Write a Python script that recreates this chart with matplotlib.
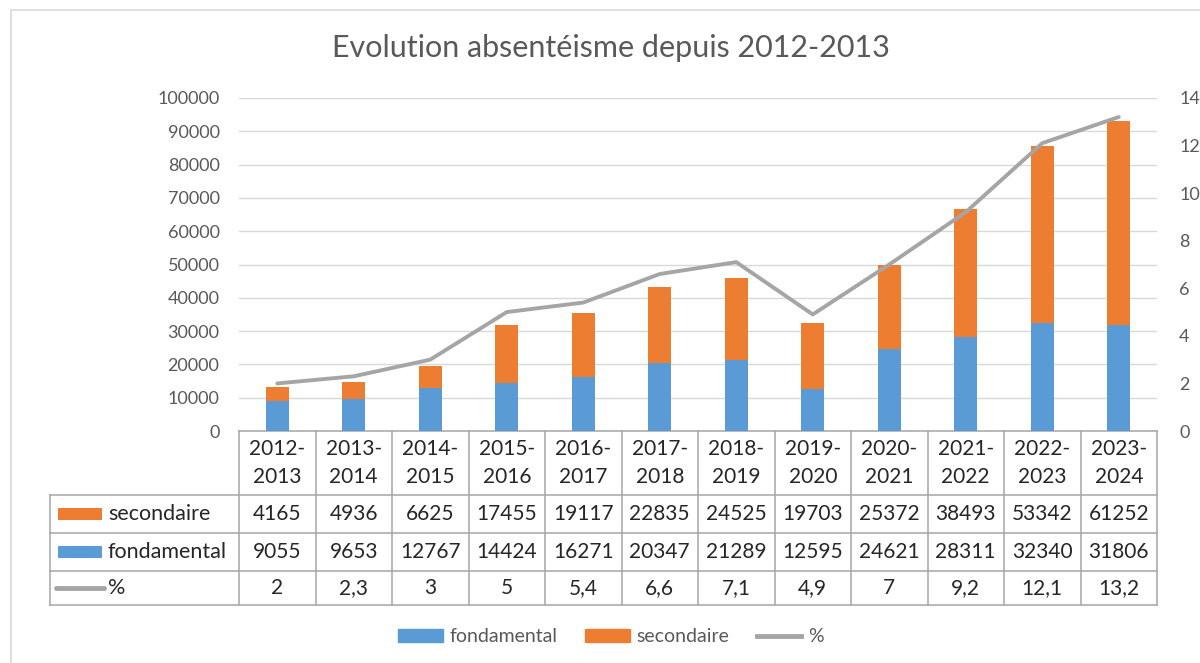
import matplotlib
matplotlib.use("Agg")
import matplotlib.pyplot as plt
import matplotlib.transforms as mtransforms
from matplotlib.patches import Patch, Rectangle
from matplotlib.lines import Line2D

plt.rcParams['font.family'] = ['Lato', 'DejaVu Sans']

years = ['2012-\n2013', '2013-\n2014', '2014-\n2015', '2015-\n2016', '2016-\n2017', '2017-\n2018',
         '2018-\n2019', '2019-\n2020', '2020-\n2021', '2021-\n2022', '2022-\n2023', '2023-\n2024']
fondamental = [9055, 9653, 12767, 14424, 16271, 20347, 21289, 12595, 24621, 28311, 32340, 31806]
secondaire = [4165, 4936, 6625, 17455, 19117, 22835, 24525, 19703, 25372, 38493, 53342, 61252]
pct = [2, 2.3, 3, 5, 5.4, 6.6, 7.1, 4.9, 7, 9.2, 12.1, 13.2]

BLUE = '#5B9BD5'
ORANGE = '#ED7D31'
GREY = '#A5A5A5'
TXT = '#595959'
DARK = '#262626'
RULE = '#A6A6A6'

W, H = 1200, 663
fig = plt.figure(figsize=(W / 100, H / 100), dpi=100)

# chart border
fig.patches.append(Rectangle((11 / W, -0.1), 1.2, 1 - 10 / H + 0.1, transform=fig.transFigure,
                             fill=False, edgecolor='#D9D9D9', lw=1.2))

left, right, top, bottom = 239, 1157, 98, 431
ax = fig.add_axes([left / W, 1 - bottom / H, (right - left) / W, (bottom - top) / H])
x = list(range(len(years)))
ax.bar(x, fondamental, width=0.3, color=BLUE, zorder=3)
ax.bar(x, secondaire, width=0.3, bottom=fondamental, color=ORANGE, zorder=3)
ax.set_xlim(-0.5, len(years) - 0.5)
ax.set_ylim(0, 100000)
ax.set_yticks(range(0, 100001, 10000))
ax.set_xticks([])
ax.grid(axis='y', color='#D9D9D9', lw=1, zorder=0)
for s in ax.spines.values():
    s.set_visible(False)
ax.tick_params(axis='y', length=0, pad=14, labelsize=13, labelcolor=TXT)

ax2 = ax.twinx()
ax2.plot(x, pct, color=GREY, lw=2.8, solid_capstyle='round', zorder=4)
ax2.set_ylim(0, 14)
ax2.set_yticks(range(0, 15, 2))
for s in ax2.spines.values():
    s.set_visible(False)
ax2.tick_params(axis='y', length=0, pad=16, labelsize=13, labelcolor=TXT)

fig.text(611 / W, 1 - 48 / H, 'Evolution absentéisme depuis 2012-2013', ha='center', va='center',
         fontsize=22, color=TXT)

# data table under the plot
tr = mtransforms.blended_transform_factory(ax.transData, ax.transAxes)
ph = bottom - top


def ya(py):
    return -(py - bottom) / ph


def xd(px):
    return (px - left) / ((right - left) / len(years)) - 0.5


rows_y = [ya(431), ya(495), ya(533), ya(571), ya(605)]
x0 = xd(50)
xe = len(years) - 0.5
kw = dict(color=RULE, lw=1.1, transform=tr, clip_on=False)
ax.plot([-0.5, xe], [rows_y[0]] * 2, **kw)
for yy in rows_y[1:]:
    ax.plot([x0, xe], [yy] * 2, **kw)
for i in range(len(years) + 1):
    ax.plot([i - 0.5] * 2, [rows_y[0], rows_y[-1]], **kw)
ax.plot([x0] * 2, [rows_y[1], rows_y[-1]], **kw)

tk = dict(transform=tr, ha='center', va='center', fontsize=15, color=DARK, clip_on=False)
for i, lab in enumerate(years):
    ax.text(i, (rows_y[0] + rows_y[1]) / 2, lab, linespacing=1.55, **tk)


def fmt(v):
    return ('%g' % v).replace('.', ',')


series = [('secondaire', secondaire, ORANGE), ('fondamental', fondamental, BLUE), ('%', pct, GREY)]
for r, (name, vals, col) in enumerate(series):
    yc = (rows_y[r + 1] + rows_y[r + 2]) / 2
    for i, v in enumerate(vals):
        ax.text(i, yc, fmt(v), **tk)
    if name == '%':
        ax.plot([xd(56), xd(104)], [yc] * 2, color=col, lw=3.5, solid_capstyle='round',
                transform=tr, clip_on=False)
    else:
        ax.add_patch(Rectangle((xd(58), yc - 6 / ph), xd(102) - xd(58), 12 / ph, transform=tr,
                               facecolor=col, clip_on=False))
    ax.text(xd(108), yc, name, transform=tr, ha='left', va='center', fontsize=15.5, color=DARK,
            clip_on=False)

handles = [Patch(color=BLUE, label='fondamental'), Patch(color=ORANGE, label='secondaire'),
           Line2D([], [], color=GREY, lw=3.5, label='%')]
leg = fig.legend(handles=handles, loc='center', bbox_to_anchor=(611 / W, 1 - 637 / H), ncol=3,
                 frameon=False, fontsize=14, handlelength=2.3, handleheight=0.65,
                 columnspacing=1.4, handletextpad=0.35)
for t in leg.get_texts():
    t.set_color(TXT)

fig.savefig('out.png', dpi=100)
